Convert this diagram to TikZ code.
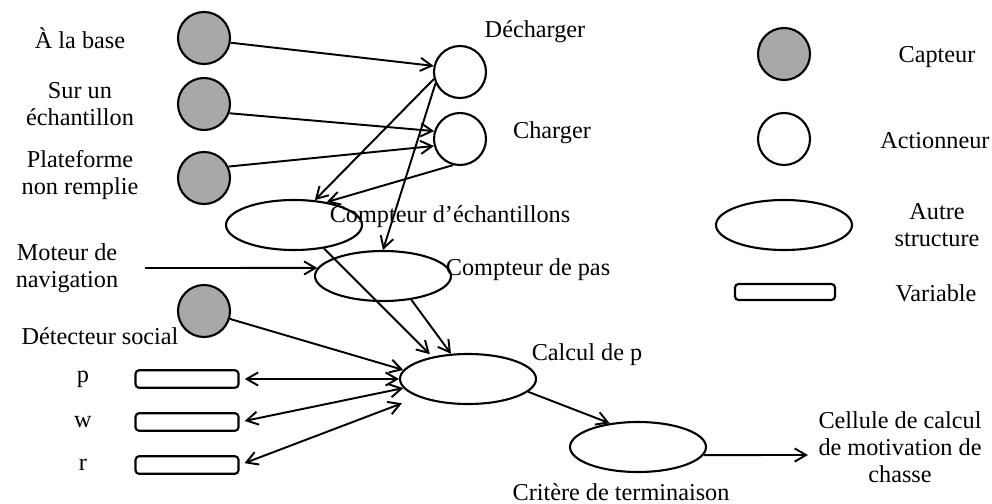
\documentclass[tikz,border=0pt]{standalone}
\usepackage{fontspec}
\setmainfont{Liberation Serif}
\usetikzlibrary{shapes.geometric,arrows.meta}

\begin{document}
\begin{tikzpicture}
        [capteur/.style={circle,draw,minimum size=1.04cm,inner sep=0pt,line width=1.2pt,fill=gray!68},
        actionneur/.style={circle,draw,minimum size=1.04cm,inner sep=0pt,line width=1.2pt},
        structure/.style={ellipse,draw,minimum width=2.72cm,minimum height=1cm,inner sep=0pt,line width=1.2pt},
        varbox/.style={rectangle,draw,rounded corners=2pt,minimum width=2.06cm,minimum height=0.35cm,inner sep=0pt,line width=1.2pt},
        lien/.style={line width=1.1pt,->},
        every node/.style={font=\fontsize{13.8}{15.5}\selectfont,align=center},
        >={Straight Barb[length=6.5pt,width=7.5pt]}]
        \useasboundingbox (0,0) rectangle (19.84,-10.08);

        % capteurs
        \node[capteur] (sBase) at (4.08,-0.76) {};
        \node[capteur] (sEch) at (4.08,-2.08) {};
        \node[capteur] (sPlat) at (4.08,-3.56) {};
        \node[capteur] (sSoc) at (4.08,-6.22) {};
        \node (lBase) at (1.6,-0.76) {À la base};
        \node (lEch) at (1.6,-2.08) {Sur un\\échantillon};
        \node (lPlat) at (1.6,-3.5) {Plateforme\\non remplie};
        \node (lMoteur) at (1.34,-5.36) {Moteur de\\navigation};
        \node (lSoc) at (2.0,-6.72) {Détecteur social};

        % actionneurs
        \node[actionneur] (dech) at (9.2,-1.44) {};
        \node[actionneur] (charg) at (9.2,-2.78) {};
        \node (lDech) at (10.7,-0.64) {Décharger};
        \node (lCharg) at (11.04,-2.66) {Charger};

        % autres structures
        \node[structure] (cEch) at (5.88,-4.5) {};
        \node[structure] (cPas) at (7.66,-5.52) {};
        \node[structure] (calcP) at (9.36,-7.58) {};
        \node[structure] (crit) at (12.76,-8.94) {};
        \node (lCEch) at (9.0,-4.34) {Compteur d’échantillons};
        \node (lCPas) at (10.56,-5.4) {Compteur de pas};
        \node (lCalcP) at (11.74,-7.1) {Calcul de p};
        \node (lCrit) at (12.42,-9.84) {Critère de terminaison};
        \node (lCell) at (18.0,-8.94) {Cellule de calcul\\de motivation de\\chasse};

        % variables
        \node[varbox] (varP) at (3.74,-7.58) {};
        \node[varbox] (varW) at (3.74,-8.44) {};
        \node[varbox] (varR) at (3.74,-9.3) {};
        \node (lP) at (1.66,-7.58) {p};
        \node (lW) at (1.66,-8.44) {w};
        \node (lR) at (1.66,-9.3) {r};

        % legende
        \node[capteur] (lgCapt) at (15.68,-1.08) {};
        \node[actionneur] (lgAct) at (15.68,-2.78) {};
        \node[structure] (lgAutre) at (15.68,-4.5) {};
        \node[varbox, minimum width=2cm, minimum height=0.32cm] (lgVar) at (15.7,-5.84) {};
        \node (tCapt) at (18.74,-1.14) {Capteur};
        \node (tAct) at (18.7,-2.82) {Actionneur};
        \node (tAutre) at (18.74,-4.5) {Autre\\structure};
        \node (tVar) at (18.72,-5.86) {Variable};

        \coordinate (moteur) at (2.9,-5.36);
        \coordinate (cellIn) at (16.16,-9.1);

        \draw[lien] (sBase.-10) -- (dech.167);
        \draw[lien] (sEch.-20) -- (charg.163);
        \draw[lien] (sPlat.25) -- (charg.195);
        \draw[lien] (dech.195) -- (cEch.50);
        \draw[lien] (charg.255) -- (cEch.35);
        \draw[lien] (dech.205) -- (cPas.north);
        \draw[lien] (moteur) -- (cPas.173);
        \draw[lien, shorten >=2pt] (cEch.-38) -- (calcP.148);
        \draw[lien] (cPas.-40) -- (calcP.124);
        \draw[lien] (sSoc.-17) -- (calcP.172);
        \draw[lien, <->, shorten <=3pt] (varP.east) -- (calcP.west);
        \draw[lien, <->, shorten <=3pt] (varW.east) -- (calcP.188);
        \draw[lien, <->, shorten <=3pt, shorten >=10pt] (varR.east) -- (calcP.200);
        \draw[lien] (calcP.-12) -- (crit.140);
        \draw[lien] (crit.-7) -- (cellIn);

    \end{tikzpicture}
\end{document}
